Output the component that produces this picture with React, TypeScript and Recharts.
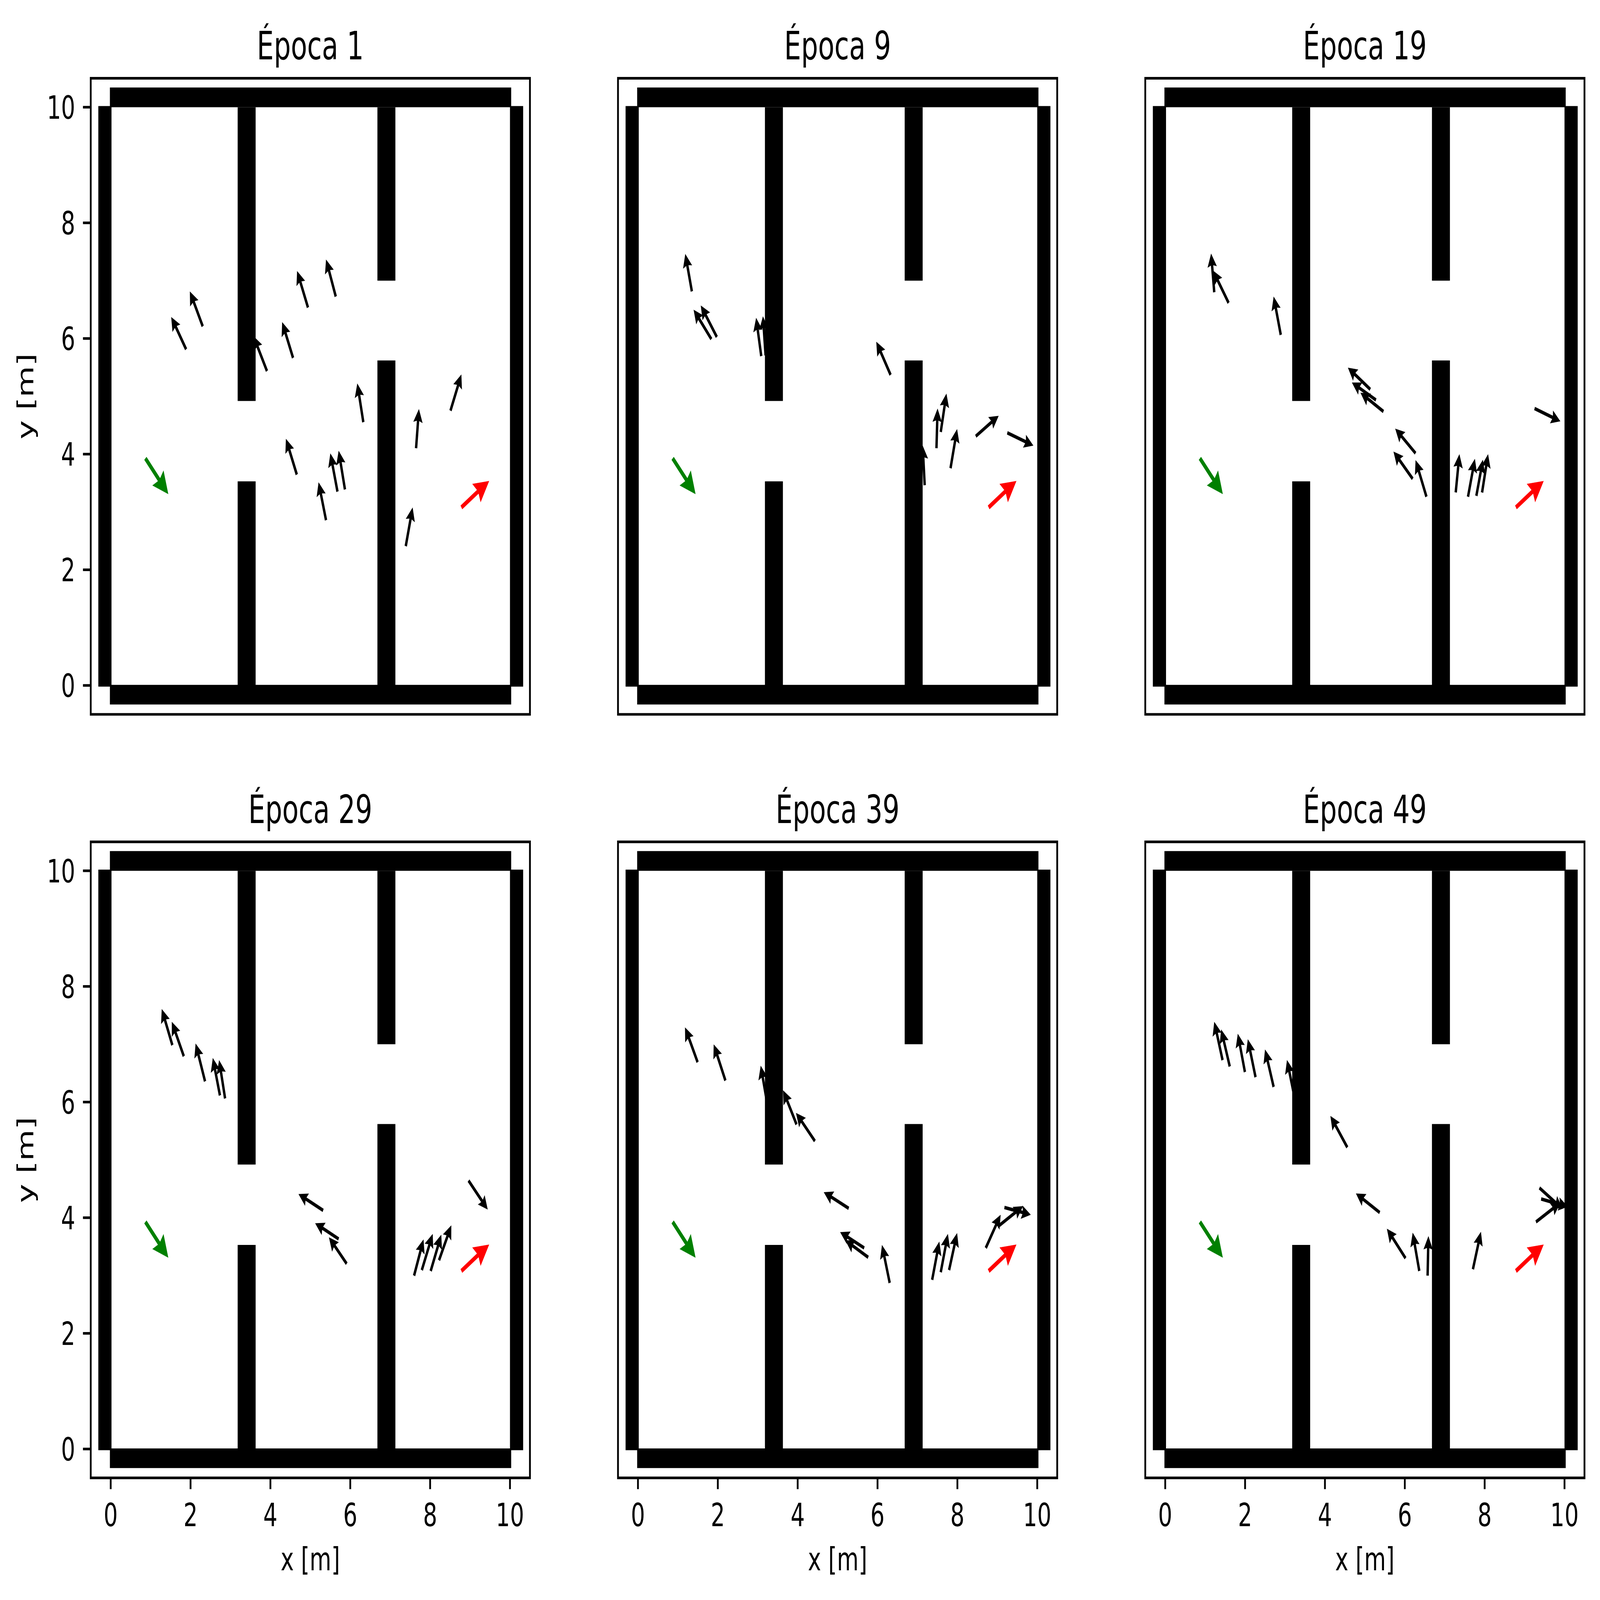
import React from 'react';
import { ComposedChart, XAxis, YAxis, ReferenceLine, ReferenceArea, Scatter } from 'recharts';

// ---------- data (metres) ----------
const TITLES = ['Época 1', 'Época 9', 'Época 19', 'Época 29', 'Época 39', 'Época 49'];
const TICKS = [0, 2, 4, 6, 8, 10];
const DOMAIN: [number, number] = [-0.5, 10.5];

// walls: [x1, x2, y1, y2]
const WALLS = [
  [-0.31, 0.02, -0.02, 10.02],
  [10.0, 10.33, -0.02, 10.02],
  [-0.02, 10.03, 10.0, 10.34],
  [-0.02, 10.03, -0.33, 0.01],
  [3.18, 3.63, 4.92, 10.0],
  [3.18, 3.63, 0.0, 3.53],
  [6.68, 7.13, 7.0, 10.0],
  [6.68, 7.13, 0.0, 5.62],
];

// arrows: [x, y, u, v] (tail and direction)
const START_ARROW = [0.869, 3.927, 0.574, -0.619];
const GOAL_ARROW = [8.783, 3.079, 0.696, 0.457];

const EPOCH_1 = [
  [1.889, 5.813, -0.374, 0.559],
  [2.305, 6.21, -0.323, 0.605],
  [3.433, 5.945, -0.13, 0.67],
  [3.914, 5.437, -0.338, 0.604],
  [4.567, 5.665, -0.273, 0.619],
  [4.941, 6.535, -0.273, 0.633],
  [5.637, 6.726, -0.244, 0.641],
  [6.327, 4.553, -0.151, 0.67],
  [4.661, 3.647, -0.273, 0.619],
  [5.68, 3.352, -0.179, 0.663],
  [5.867, 3.389, -0.158, 0.67],
  [5.393, 2.858, -0.187, 0.656],
  [7.648, 4.103, 0.072, 0.678],
  [8.51, 4.752, 0.273, 0.626],
  [7.39, 2.409, 0.172, 0.67],
];
const EPOCH_9 = [
  [1.35, 6.815, -0.165, 0.648],
  [1.838, 5.989, -0.445, 0.509],
  [1.975, 6.026, -0.402, 0.545],
  [3.088, 5.695, -0.129, 0.663],
  [3.196, 5.709, -0.066, 0.677],
  [6.327, 5.371, -0.359, 0.574],
  [7.181, 3.463, -0.05, 0.685],
  [7.476, 4.103, 0.028, 0.686],
  [7.583, 4.383, 0.143, 0.665],
  [7.828, 3.757, 0.165, 0.678],
  [8.46, 4.31, 0.574, 0.353],
  [9.25, 4.369, 0.653, -0.221],
];
const EPOCH_19 = [
  [1.228, 6.8, -0.079, 0.67],
  [1.587, 6.616, -0.391, 0.559],
  [2.894, 6.063, -0.179, 0.663],
  [5.135, 5.12, -0.56, 0.376],
  [5.278, 4.936, -0.603, 0.302],
  [5.465, 4.737, -0.575, 0.324],
  [6.269, 4.015, -0.51, 0.427],
  [6.197, 3.573, -0.481, 0.472],
  [6.542, 3.264, -0.273, 0.633],
  [7.275, 3.337, 0.093, 0.663],
  [7.583, 3.264, 0.173, 0.655],
  [7.792, 3.278, 0.165, 0.627],
  [7.935, 3.337, 0.151, 0.663],
  [9.25, 4.789, 0.646, -0.221],
];
const EPOCH_29 = [
  [1.544, 6.984, -0.266, 0.626],
  [1.831, 6.792, -0.301, 0.597],
  [2.363, 6.358, -0.237, 0.655],
  [2.736, 6.115, -0.179, 0.648],
  [2.865, 6.063, -0.15, 0.663],
  [5.321, 4.126, -0.618, 0.283],
  [5.709, 3.632, -0.589, 0.273],
  [5.91, 3.205, -0.445, 0.456],
  [7.598, 2.998, 0.237, 0.627],
  [7.792, 3.094, 0.273, 0.626],
  [8.014, 3.079, 0.266, 0.627],
  [8.223, 3.264, 0.308, 0.604],
  [8.962, 4.641, 0.481, -0.501],
];
const EPOCH_39 = [
  [1.494, 6.689, -0.316, 0.604],
  [2.19, 6.372, -0.294, 0.627],
  [3.239, 5.967, -0.165, 0.663],
  [3.971, 5.614, -0.339, 0.591],
  [4.431, 5.326, -0.474, 0.487],
  [5.278, 4.162, -0.625, 0.28],
  [5.666, 3.477, -0.603, 0.273],
  [5.767, 3.315, -0.575, 0.295],
  [6.305, 2.873, -0.194, 0.656],
  [7.368, 2.925, 0.18, 0.663],
  [7.583, 3.057, 0.18, 0.663],
  [7.792, 3.094, 0.201, 0.641],
  [8.711, 3.477, 0.373, 0.575],
  [9.013, 3.846, 0.632, 0.353],
  [9.178, 4.177, 0.66, -0.125],
];
const EPOCH_49 = [
  [1.436, 6.726, -0.208, 0.663],
  [1.616, 6.616, -0.216, 0.641],
  [1.996, 6.52, -0.179, 0.663],
  [2.262, 6.431, -0.194, 0.656],
  [2.715, 6.262, -0.216, 0.648],
  [3.239, 6.078, -0.19, 0.65],
  [4.56, 5.216, -0.424, 0.545],
  [5.372, 4.089, -0.596, 0.331],
  [6.018, 3.3, -0.467, 0.509],
  [6.363, 3.079, -0.166, 0.663],
  [6.571, 2.998, 0.021, 0.685],
  [7.706, 3.109, 0.201, 0.648],
  [9.372, 4.516, 0.578, -0.365],
  [9.415, 4.324, 0.667, -0.133],
  [9.285, 3.927, 0.611, 0.331],
];
const EPOCH_ARROWS = [EPOCH_1, EPOCH_9, EPOCH_19, EPOCH_29, EPOCH_39, EPOCH_49];

// ---------- styles ----------
const FIG_W = 5978;
const FIG_H = 4128;
const FONT = 'DejaVu Sans';
const TICK_FS = 83.3;
const TITLE_FS = 100;
const LW = 6.7;
const PLOT = 1641;
const Y_AXIS_W = 339;
const TITLE_H = 202;
const RIGHT_M = 10;
const COL_LEFT = [0, 1970, 3940];
const ROW_TOP = [0, 1970];
const BOTTOM_H = [60, 300];

const BLACK_STYLE = { shaft: 9, head: 35, headLen: 35, headAxis: 31, color: '#000000' };
const START_STYLE = { shaft: 11.5, head: 57, headLen: 57, headAxis: 51, color: '#008000' };
const GOAL_STYLE = { shaft: 11.5, head: 57, headLen: 57, headAxis: 51, color: '#ff0000' };

const arrowShape = (st: any) => (props: any) => {
  const { x1, y1, x2, y2 } = props;
  if ([x1, y1, x2, y2].some((v) => typeof v !== 'number' || isNaN(v))) return <g />;
  const dx = x2 - x1;
  const dy = y2 - y1;
  const L = Math.hypot(dx, dy) || 1;
  const ux = dx / L, uy = dy / L;
  const nx = -uy, ny = ux;
  const s = st.shaft / 2, h = st.head / 2;
  const bx = x2 - ux * st.headLen, by = y2 - uy * st.headLen;
  const ax = x2 - ux * st.headAxis, ay = y2 - uy * st.headAxis;
  const pts = [
    [x1 + nx * s, y1 + ny * s],
    [ax + nx * s, ay + ny * s],
    [bx + nx * h, by + ny * h],
    [x2, y2],
    [bx - nx * h, by - ny * h],
    [ax - nx * s, ay - ny * s],
    [x1 - nx * s, y1 - ny * s],
  ];
  return <polygon points={pts.map((p) => `${p[0]},${p[1]}`).join(' ')} fill={st.color} stroke="none" />;
};

const blackShape = arrowShape(BLACK_STYLE);
const startShape = arrowShape(START_STYLE);
const goalShape = arrowShape(GOAL_STYLE);

const tickStyle = { fontSize: TICK_FS, fill: '#000', fontFamily: FONT, stroke: 'none' };
const tickLine = { stroke: '#000', strokeWidth: LW };

function Panel({ idx }: { idx: number }) {
  const row = Math.floor(idx / 3);
  const col = idx % 3;
  const showX = row === 1;
  const showY = col === 0;
  const bottomH = BOTTOM_H[row];
  const width = Y_AXIS_W + PLOT + RIGHT_M;
  const height = TITLE_H + PLOT + bottomH;
  const arrows = EPOCH_ARROWS[idx];
  const allArrows = [
    ...arrows.map((a) => ({ a, shape: blackShape })),
    { a: START_ARROW, shape: startShape },
    { a: GOAL_ARROW, shape: goalShape },
  ];
  const tails = allArrows.map(({ a }) => ({ x: a[0], y: a[1] }));

  const titleContent = (p: any) => {
    const vb = p.viewBox || {};
    return (
      <text x={vb.x + vb.width / 2} y={vb.y + vb.height - 49} textAnchor="middle" fontSize={TITLE_FS} fontFamily={FONT} fill="#000">
        {TITLES[idx]}
      </text>
    );
  };
  const xLabelContent = (p: any) => {
    const vb = p.viewBox || {};
    return (
      <text x={vb.x + vb.width / 2} y={vb.y + 238} textAnchor="middle" fontSize={TICK_FS} fontFamily={FONT} fill="#000">
        x [m]
      </text>
    );
  };
  const yLabelContent = (p: any) => {
    const vb = p.viewBox || {};
    const x = vb.x + 124;
    const y = vb.y + vb.height / 2;
    return (
      <text x={x} y={y} transform={`rotate(-90 ${x} ${y})`} textAnchor="middle" fontSize={TICK_FS} fontFamily={FONT} fill="#000">
        y [m]
      </text>
    );
  };

  return (
    <div style={{ position: 'absolute', left: COL_LEFT[col], top: ROW_TOP[row], width, height }}>
      <ComposedChart width={width} height={height} margin={{ top: 0, right: RIGHT_M, bottom: 0, left: 0 }} data={tails}>
        <XAxis
          xAxisId="t"
          orientation="top"
          type="number"
          domain={DOMAIN}
          allowDataOverflow
          height={TITLE_H}
          tick={false}
          tickLine={false}
          axisLine={false}
          label={{ content: titleContent }}
        />
        <XAxis
          dataKey="x"
          type="number"
          domain={DOMAIN}
          allowDataOverflow
          ticks={TICKS}
          interval={0}
          height={bottomH}
          tickSize={29}
          tickMargin={36}
          tick={showX ? tickStyle : false}
          tickLine={tickLine}
          axisLine={false}
          label={showX ? { content: xLabelContent } : undefined}
        />
        <YAxis
          dataKey="y"
          type="number"
          domain={DOMAIN}
          allowDataOverflow
          ticks={TICKS}
          interval={0}
          width={Y_AXIS_W}
          tickSize={29}
          tickMargin={29}
          tick={showY ? tickStyle : false}
          tickLine={tickLine}
          axisLine={false}
          label={showY ? { content: yLabelContent } : undefined}
        />
        <Scatter dataKey="y" isAnimationActive={false} shape={() => <g />} legendType="none" />
        {allArrows.map(({ a, shape }, i) => (
          <ReferenceLine
            key={`ar${i}`}
            segment={[
              { x: a[0], y: a[1] },
              { x: a[0] + a[2], y: a[1] + a[3] },
            ]}
            ifOverflow="visible"
            shape={shape}
            zIndex={600}
          />
        ))}
        {WALLS.map((w, i) => (
          <ReferenceArea
            key={`w${i}`}
            x1={w[0]}
            x2={w[1]}
            y1={w[2]}
            y2={w[3]}
            fill="#000"
            fillOpacity={1}
            stroke="none"
            ifOverflow="visible"
            zIndex={700}
          />
        ))}
        <ReferenceArea
          x1={DOMAIN[0]}
          x2={DOMAIN[1]}
          y1={DOMAIN[0]}
          y2={DOMAIN[1]}
          fill="none"
          fillOpacity={0}
          stroke="#000"
          strokeWidth={LW}
          ifOverflow="visible"
          zIndex={800}
        />
      </ComposedChart>
    </div>
  );
}

export default function App() {
  // The browser window may be smaller than the figure; fit the figure to it.
  const vw = typeof window !== 'undefined' ? window.innerWidth : FIG_W;
  const vh = typeof window !== 'undefined' ? window.innerHeight : FIG_H;
  const sx = Math.min(1, vw / FIG_W);
  const sy = Math.min(1, vh / FIG_H);
  return (
    <div style={{ position: 'absolute', left: 0, top: 0, width: Math.round(FIG_W * sx), height: Math.round(FIG_H * sy), overflow: 'hidden', background: '#fff' }}>
      <div
        style={{
          position: 'absolute',
          left: 0,
          top: 0,
          width: FIG_W,
          height: FIG_H,
          background: '#fff',
          fontFamily: FONT,
          transform: `scale(${sx}, ${sy})`,
          transformOrigin: '0 0',
        }}
      >
        {[0, 1, 2, 3, 4, 5].map((i) => (
          <Panel key={i} idx={i} />
        ))}
      </div>
    </div>
  );
}
